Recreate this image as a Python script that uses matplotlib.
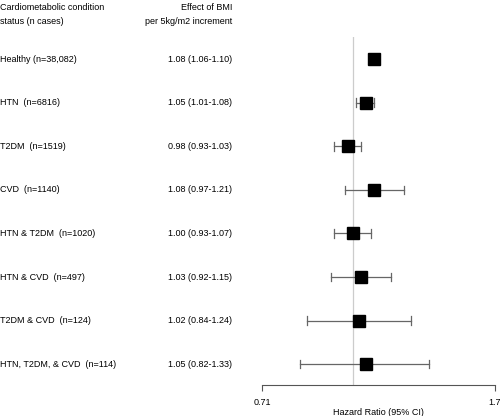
import matplotlib
matplotlib.use("Agg")
from matplotlib import pyplot as plt
from matplotlib.transforms import blended_transform_factory

plt.rcParams['font.family'] = ['Liberation Sans', 'DejaVu Sans']

labels = ['Healthy (n=38,082)', 'HTN  (n=6816)', 'T2DM  (n=1519)', 'CVD  (n=1140)',
          'HTN & T2DM  (n=1020)', 'HTN & CVD  (n=497)', 'T2DM & CVD  (n=124)',
          'HTN, T2DM, & CVD  (n=114)']
hr = [1.08, 1.05, 0.98, 1.08, 1.00, 1.03, 1.02, 1.05]
lo = [1.06, 1.01, 0.93, 0.97, 0.93, 0.92, 0.84, 0.82]
hi = [1.10, 1.08, 1.03, 1.21, 1.07, 1.15, 1.24, 1.33]
effect_txt = ['1.08 (1.06-1.10)', '1.05 (1.01-1.08)', '0.98 (0.93-1.03)', '1.08 (0.97-1.21)',
              '1.00 (0.93-1.07)', '1.03 (0.92-1.15)', '1.02 (0.84-1.24)', '1.05 (0.82-1.33)']
xticks = [0.71, 1.7]

fig = plt.figure(figsize=(5, 4.16), dpi=100)
ax = fig.add_axes([0.524, 0.0745, 0.466, 0.836])

ypos = list(range(len(labels)))
ax.axvline(1.0, color='#cccccc', linewidth=0.9, zorder=0)
for i in ypos:
    ax.plot([lo[i], hi[i]], [i, i], color='#666666', linewidth=0.9, zorder=1)
    ax.plot([lo[i], lo[i]], [i - 0.1, i + 0.1], color='#666666', linewidth=0.9, zorder=1)
    ax.plot([hi[i], hi[i]], [i - 0.1, i + 0.1], color='#666666', linewidth=0.9, zorder=1)
# first row (largest group) gets a slightly bigger box
ax.plot(hr[:1], ypos[:1], 's', color='black', markersize=9, linestyle='none', zorder=2)
ax.plot(hr[1:], ypos[1:], 's', color='black', markersize=8, linestyle='none', zorder=2)

ax.set_xscale('log')
ax.set_xlim(0.71, 1.7)
ax.set_ylim(7.48, -0.507)
ax.set_xticks(xticks)
ax.set_xticklabels(['0.71', '1.7'])
ax.minorticks_off()
ax.set_yticks([])
for s in ['left', 'top', 'right']:
    ax.spines[s].set_visible(False)
ax.spines['bottom'].set_color('#555555')
ax.spines['bottom'].set_linewidth(0.8)
ax.tick_params(axis='x', length=4, width=0.8, color='#555555', labelsize=6.5, pad=5)
ax.set_xlabel('Hazard Ratio (95% CI)', fontsize=6.5, labelpad=1)

trans = blended_transform_factory(fig.transFigure, ax.transData)
for i in ypos:
    ax.text(0.0, i, labels[i], transform=trans, fontsize=6.5, va='center', ha='left')
    ax.text(0.464, i, effect_txt[i], transform=trans, fontsize=6.5, va='center', ha='right')

fig.text(0.0, 1 - 8 / 416, 'Cardiometabolic condition', fontsize=6.5, va='center', ha='left')
fig.text(0.0, 1 - 22 / 416, 'status (n cases)', fontsize=6.5, va='center', ha='left')
fig.text(0.464, 1 - 8 / 416, 'Effect of BMI', fontsize=6.5, va='center', ha='right')
fig.text(0.464, 1 - 22 / 416, 'per 5kg/m2 increment', fontsize=6.5, va='center', ha='right')

plt.savefig('out.png', dpi=100)
